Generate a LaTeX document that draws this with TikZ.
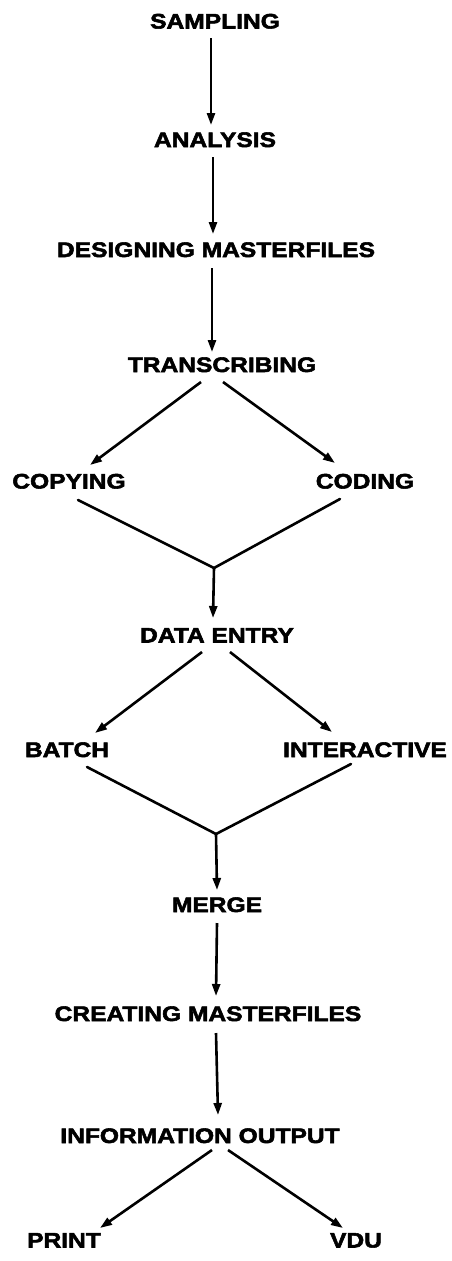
\documentclass[tikz,border=0pt]{standalone}
\usepackage{fontspec}
\newfontfamily\lblfont[FakeStretch=1.17,FakeBold=2.6]{Liberation Sans Bold}
\usetikzlibrary{arrows.meta}
\tikzset{
  lbl/.style={font=\lblfont\fontsize{21}{21}\selectfont, inner sep=0pt, outer sep=0pt,
              text height=15pt, text depth=0pt, anchor=center},
  arr/.style={line width=2.6pt, -{Triangle[length=12pt,width=8pt]}},
  ln/.style={line width=2.6pt, line cap=round}
}
\begin{document}
\begin{tikzpicture}[x=1pt,y=-1pt]
\path[use as bounding box, fill=white] (0,0) rectangle (451,1261);

\node[lbl] (samp)  at (215,21)    {SAMPLING};
\node[lbl] (anal)  at (215,139.5) {ANALYSIS};
\node[lbl] (desg)  at (216,249.5) {DESIGNING MASTERFILES};
\node[lbl] (tran)  at (222,364.5) {TRANSCRIBING};
\node[lbl] (copy)  at (69,481)    {COPYING};
\node[lbl] (code)  at (365,481)   {CODING};
\node[lbl] (data)  at (217,635)   {DATA ENTRY};
\node[lbl] (batch) at (67,749.5)  {BATCH};
\node[lbl] (inter) at (365,749.5) {INTERACTIVE};
\node[lbl] (merge) at (217,904.5) {MERGE};
\node[lbl] (crea)  at (208,1013.5){CREATING MASTERFILES};
\node[lbl] (info)  at (200,1135.5){INFORMATION OUTPUT};
\node[lbl] (print) at (64,1240)   {PRINT};
\node[lbl] (vdu)   at (356,1240)  {VDU};

\coordinate (j1) at (214,568);
\coordinate (j2) at (216,834);

\draw[arr] ([shift={(-4,9.5)}]samp.south) -- ([shift={(-4,-7)}]anal.north);
\draw[arr] ([shift={(-2,10)}]anal.south) -- ([shift={(-3,-8)}]desg.north);
\draw[arr] ([shift={(-4,11)}]desg.south) -- ([shift={(-10,-5)}]tran.north);
\draw[arr] ([shift={(-21,10)}]tran.south) -- ([shift={(21,-8.5)}]copy.north);
\draw[arr] ([shift={(1,10)}]tran.south) -- ([shift={(-30,-10.5)}]code.north);
\draw[ln] ([shift={(9,11.5)}]copy.south) -- (j1);
\draw[ln] ([shift={(-25,10.5)}]code.south) -- (j1);
\draw[arr] (j1) -- ([shift={(-4,-9.5)}]data.north);
\draw[arr] ([shift={(-15,9.5)}]data.south) -- ([shift={(28,-9)}]batch.north);
\draw[arr] ([shift={(13,9.5)}]data.south) -- ([shift={(-33,-10)}]inter.north);
\draw[ln] ([shift={(20,10)}]batch.south) -- (j2);
\draw[ln] ([shift={(-14,7)}]inter.south) -- (j2);
\draw[arr] (j2) -- ([shift={(0,-7)}]merge.north);
\draw[arr] ([shift={(0,11)}]merge.south) -- ([shift={(8,-10)}]crea.north);
\draw[arr] ([shift={(8,12)}]crea.south) -- ([shift={(18,-13)}]info.north);
\draw[arr] ([shift={(12,7)}]info.south) -- ([shift={(36,-4.5)}]print.north);
\draw[arr] ([shift={(28,7)}]info.south) -- ([shift={(-13,-4.5)}]vdu.north);
\end{tikzpicture}
\end{document}
